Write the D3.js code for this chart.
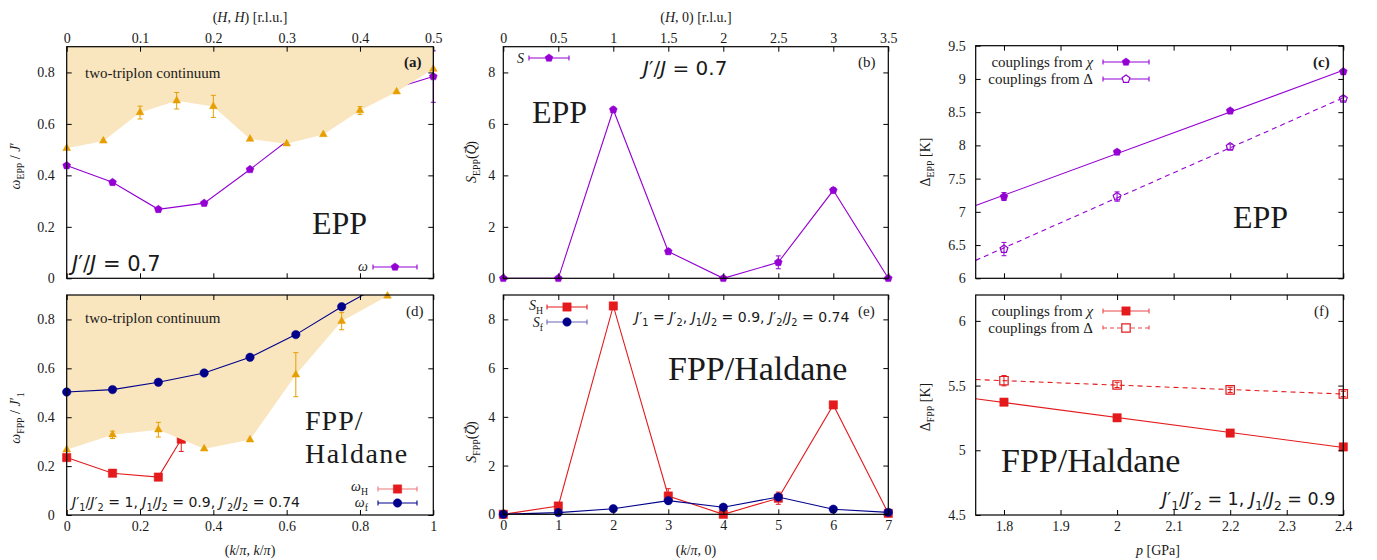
<!DOCTYPE html>
<html>
<head>
<meta charset="utf-8">
<script src="https://cdn.jsdelivr.net/npm/d3@7"></script>
<style>
body { margin: 0; background: #fff; }
text { font-family: "Liberation Serif", "DejaVu Serif", serif; fill: #1a1a1a; }
</style>
</head>
<body>
<script>
// ---------- data ----------
// (a) EPP mode along (H,H)
const qA = [0, 0.0625, 0.125, 0.1875, 0.25, 0.3125, 0.375, 0.4375, 0.5];
const omegaEPP = [0.438, 0.373, 0.268, 0.292, 0.423, 0.56, 0.65, 0.73, 0.784];
const omegaEPPErr = [0, 0, 0, 0, 0, 0, 0, 0, 0.1];
const contAq = [0, 0.05, 0.1, 0.15, 0.2, 0.25, 0.3, 0.35, 0.4, 0.45, 0.5];
const contA = [0.505, 0.534, 0.644, 0.69, 0.668, 0.541, 0.523, 0.559, 0.652, 0.725, 0.813];
const contAErr = [0, 0, 0.025, 0.032, 0.043, 0, 0, 0, 0.015, 0, 0];

// (b) EPP structure factor along (H,0)
const hB = [0, 0.5, 1, 1.5, 2, 2.5, 3, 3.5];
const sEPP = [0, 0, 6.55, 1.04, 0, 0.62, 3.42, 0];
const sEPPErr = [0, 0, 0.1, 0.1, 0, 0.25, 0.1, 0];

// (c) EPP gap vs pressure
const pressure = [1.8, 2.0, 2.2, 2.4];
const gapEPPchi = [7.23, 7.90, 8.52, 9.11];
const gapEPPchiErr = [0.06, 0.03, 0.03, 0.03];
const gapEPPdelta = [6.44, 7.23, 7.98, 8.70];
const gapEPPdeltaErr = [0.1, 0.07, 0.04, 0.03];

// (d) FPP / Haldane modes along (k/pi,k/pi)
const kH = [0, 0.125, 0.25, 0.3125];
const omegaH = [0.235, 0.171, 0.155, 0.31];
const omegaHErr = [0, 0, 0, 0.05];
const kF = [0, 0.125, 0.25, 0.375, 0.5, 0.625, 0.75, 0.875];
const omegaF = [0.503, 0.513, 0.543, 0.581, 0.645, 0.738, 0.852, 0.955];
const contDk = [0, 0.125, 0.25, 0.375, 0.5, 0.625, 0.75, 0.875];
const contD = [0.267, 0.328, 0.349, 0.271, 0.308, 0.574, 0.793, 0.896];
const contDErr = [0, 0.015, 0.03, 0, 0, 0.09, 0.035, 0];

// (e) FPP structure factors along (k/pi,0)
const kE = [0, 1, 2, 3, 4, 5, 6, 7];
const sH = [0, 0.34, 8.55, 0.75, 0, 0.66, 4.49, 0.04];
const sHErr = [0, 0, 0, 0.3, 0, 0.25, 0, 0];
const sF = [0, 0.07, 0.23, 0.56, 0.29, 0.71, 0.21, 0.08];

// (f) FPP gap vs pressure
const gapFPPchi = [5.372, 5.251, 5.133, 5.026];
const gapFPPchiErr = [0, 0, 0, 0];
const gapFPPdelta = [5.538, 5.505, 5.467, 5.436];
const gapFPPdeltaErr = [0.04, 0.02, 0.02, 0.02];

// tick values
const ticksHH = [0, 0.1, 0.2, 0.3, 0.4, 0.5];
const ticksOmega = [0, 0.2, 0.4, 0.6, 0.8];
const ticksH0 = [0, 0.5, 1, 1.5, 2, 2.5, 3, 3.5];
const ticksS = [0, 2, 4, 6, 8];
const ticksP = [1.8, 1.9, 2, 2.1, 2.2, 2.3, 2.4];
const ticksGapEPP = [6, 6.5, 7, 7.5, 8, 8.5, 9, 9.5];
const ticksKK = [0, 0.2, 0.4, 0.6, 0.8, 1];
const ticksK0 = [0, 1, 2, 3, 4, 5, 6, 7];
const ticksGapFPP = [4.5, 5, 5.5, 6];

const purple = '#9400d3', orange = '#e69f00', contFill = '#f9e5be', red = '#e41a1c', navy = '#00008b';
const serif = '"Liberation Serif", "DejaVu Serif", serif';
const sans = '"DejaVu Sans", "Liberation Sans", sans-serif';

let svg = d3.select('body').append('svg').attr('width', 1377).attr('height', 560);

// pentagon symbol for d3.symbol
const symPentagon = {
  draw(ctx, size) {
    let r = Math.sqrt(size / 2.378);
    for (let i = 0; i < 5; i++) {
      let a = -Math.PI / 2 + i * 2 * Math.PI / 5;
      i ? ctx.lineTo(r * Math.cos(a), r * Math.sin(a)) : ctx.moveTo(r * Math.cos(a), r * Math.sin(a));
    }
    ctx.closePath();
  }
};
const symbols = {
  pent: d3.symbol().type(symPentagon).size(40),
  tri: d3.symbol().type(d3.symbolTriangle).size(26),
  square: d3.symbol().type(d3.symbolSquare).size(70),
  circle: d3.symbol().type(d3.symbolCircle).size(56)
};

let clipN = 0;
function makePanel(box, xDom, yDom) {
  let x = d3.scaleLinear().domain(xDom).range([box[0], box[1]]);
  let y = d3.scaleLinear().domain(yDom).range([box[3], box[2]]);
  let id = 'clip' + (clipN++);
  svg.append('clipPath').attr('id', id).append('rect')
    .attr('x', box[0]).attr('y', box[2]).attr('width', box[1] - box[0]).attr('height', box[3] - box[2]);
  return { x, y, box, clip: 'url(#' + id + ')', g: svg.append('g') };
}

function axes(p, xt, yt, xLabels, yPad) {
  const fmt = d => String(d);
  const [l, r, t, b] = p.box;
  let add = (tr, ax) => {
    let a = p.g.append('g').attr('transform', tr).call(ax);
    a.select('.domain').remove();
    a.selectAll('line').attr('stroke', '#000');
    a.selectAll('text').attr('font-size', 14).style('font-family', serif).attr('fill', '#1a1a1a');
    return a;
  };
  add(`translate(${l},0)`, d3.axisLeft(p.y).tickValues(yt).tickFormat(fmt).tickSizeInner(-5).tickSizeOuter(0).tickPadding(yPad));
  add(`translate(${r},0)`, d3.axisRight(p.y).tickValues(yt).tickFormat('').tickSizeInner(-5).tickSizeOuter(0));
  add(`translate(0,${b})`, d3.axisBottom(p.x).tickValues(xt).tickFormat(xLabels === 'bottom' ? fmt : '').tickSizeInner(-5).tickSizeOuter(0).tickPadding(6));
  add(`translate(0,${t})`, d3.axisTop(p.x).tickValues(xt).tickFormat(xLabels === 'top' ? fmt : '').tickSizeInner(-5).tickSizeOuter(0).tickPadding(4));
  p.g.append('rect').attr('x', l).attr('y', t).attr('width', r - l).attr('height', b - t)
    .attr('fill', 'none').attr('stroke', '#000').attr('stroke-width', 1.2);
}

function line(p, xs, ys, color, dash) {
  p.g.append('path').datum(d3.zip(xs, ys))
    .attr('d', d3.line().x(d => p.x(d[0])).y(d => p.y(d[1])))
    .attr('fill', 'none').attr('stroke', color).attr('stroke-width', 1.1)
    .attr('stroke-dasharray', dash ? '5,4' : null)
    .attr('clip-path', p.clip);
}

function errBars(p, xs, ys, es, color) {
  p.g.selectAll(null).data(d3.zip(xs, ys, es).filter(d => d[2] > 0)).join('path')
    .attr('d', d => {
      let X = p.x(d[0]), y1 = p.y(d[1] - d[2]), y2 = p.y(d[1] + d[2]);
      return `M${X - 2.5},${y1}H${X + 2.5}M${X},${y1}V${y2}M${X - 2.5},${y2}H${X + 2.5}`;
    })
    .attr('fill', 'none').attr('stroke', color).attr('stroke-width', 1);
}

function points(p, xs, ys, sym, color, filled) {
  let yd = p.y.domain();
  p.g.selectAll(null).data(d3.zip(xs, ys).filter(d => d[1] <= yd[1])).join('path')
    .attr('transform', d => `translate(${p.x(d[0])},${p.y(d[1])})`)
    .attr('d', symbols[sym])
    .attr('fill', filled ? color : 'none')
    .attr('stroke', color).attr('stroke-width', filled ? 0.5 : 1.2);
}

function continuum(p, xs, ys) {
  let top = p.y.domain()[1];
  p.g.append('path').datum(d3.zip(xs, ys))
    .attr('d', d3.area().x(d => p.x(d[0])).y0(p.y(top)).y1(d => p.y(d[1])))
    .attr('fill', contFill).attr('stroke', 'none');
}

// least-squares fit line across the panel width
function fitLine(p, xs, ys, color, dash) {
  let mx = d3.mean(xs), my = d3.mean(ys);
  let slope = d3.sum(xs, (v, i) => (v - mx) * (ys[i] - my)) / d3.sum(xs, v => (v - mx) ** 2);
  let dom = p.x.domain();
  line(p, dom, dom.map(v => my + slope * (v - mx)), color, dash);
}

function legendEntry(p, x1, x2, y, color, sym, filled, dash, alpha) {
  p.g.append('path')
    .attr('d', `M${x1},${y}H${x2}M${x1},${y - 2.5}V${y + 2.5}M${x2},${y - 2.5}V${y + 2.5}`)
    .attr('fill', 'none').attr('stroke', color).attr('stroke-width', 1.1)
    .attr('stroke-opacity', alpha || 1)
    .attr('stroke-dasharray', dash ? '4,3' : null);
  p.g.append('path').attr('transform', `translate(${(x1 + x2) / 2},${y})`)
    .attr('d', symbols[sym]).attr('fill', filled ? color : '#fff')
    .attr('stroke', color).attr('stroke-width', filled ? 0.5 : 1.2);
}

// text built from parts: 'plain' or [text, flags] with i = italic, _ = subscript, ^ = superscript
// or {t, dx, dy, size, family} for hand-placed accents (vector arrow)
function rich(g, x, y, parts, o = {}) {
  let size = o.size || 14;
  let t = g.append('text').attr('x', x).attr('y', y).attr('font-size', size)
    .attr('text-anchor', o.anchor || 'start');
  t.style('font-family', o.family || serif);
  if (o.weight) t.attr('font-weight', o.weight);
  if (o.spacing) t.attr('letter-spacing', o.spacing);
  if (o.rotate) t.attr('transform', `rotate(-90,${x},${y})`);
  let shift = 0;
  parts.forEach(part => {
    if (part.t) {
      let ts = t.append('tspan').text(part.t).attr('dx', part.dx || 0).attr('dy', part.dy || 0);
      if (part.size) ts.attr('font-size', part.size);
      if (part.family) ts.style('font-family', part.family);
      shift += part.dy || 0;
      return;
    }
    let [s, f] = typeof part === 'string' ? [part, ''] : part;
    let target = f.includes('_') ? size * 0.3 : f.includes('^') ? -size * 0.35 : 0;
    let ts = t.append('tspan').text(s).attr('dy', target - shift);
    shift = target;
    if (f.includes('i')) ts.style('font-style', 'italic');
    if (target) ts.attr('font-size', size * 0.7);
  });
  return t;
}

const vecArrow = { t: '→', dx: -9, dy: -8, size: 9, family: sans };

// ---------- (a) ----------
let pa = makePanel([66.7, 433.3, 46.7, 278.3], [0, 0.5], [0, 0.9]);
line(pa, qA, omegaEPP, purple);
points(pa, qA, omegaEPP, 'pent', purple, true);
errBars(pa, qA, omegaEPP, omegaEPPErr, purple);
continuum(pa, contAq, contA);
errBars(pa, contAq, contA, contAErr, orange);
points(pa, contAq, contA, 'tri', orange, true);
axes(pa, ticksHH, ticksOmega, 'top', 12);
rich(pa.g, 85, 78, ['two-triplon continuum'], { size: 15 });
rich(pa.g, 404, 67, ['(a)'], { size: 15, weight: 'bold' });
rich(pa.g, 312, 234, ['EPP'], { size: 32 });
rich(pa.g, 72, 271, [['J', 'i'], '′/', ['J', 'i'], ' = 0.7'], { size: 21, family: sans });
rich(pa.g, 368, 271, [['ω', 'i']], { size: 14, anchor: 'end' });
legendEntry(pa, 373, 417, 267, purple, 'pent', true);
rich(svg, 250, 22, ['(', ['H', 'i'], ', ', ['H', 'i'], ') [r.l.u.]'], { size: 14, anchor: 'middle' });
rich(svg, 20, 166, [['ω', 'i'], ['EPP', '_'], ' / ', ['J', 'i'], '′'], { size: 14, anchor: 'middle', rotate: true });

// ---------- (b) ----------
let pb = makePanel([503.3, 888.3, 46.7, 278.3], [0, 3.5], [0, 9]);
line(pb, hB, sEPP, purple);
errBars(pb, hB, sEPP, sEPPErr, purple);
points(pb, hB, sEPP, 'pent', purple, true);
axes(pb, ticksH0, ticksS, 'top', 8);
rich(pb.g, 858, 67, ['(b)'], { size: 15 });
rich(pb.g, 532, 123, ['EPP'], { size: 32 });
rich(pb.g, 643, 75, [['J', 'i'], '′/', ['J', 'i'], ' = 0.7'], { size: 20, family: sans });
rich(pb.g, 517, 63, [['S', 'i']], { size: 14 });
legendEntry(pb, 529, 569, 58, purple, 'pent', true);
rich(svg, 696, 22, ['(', ['H', 'i'], ', 0) [r.l.u.]'], { size: 14, anchor: 'middle' });
rich(svg, 476, 162, [['S', 'i'], ['EPP', '_'], '(', ['Q', 'i'], vecArrow, ')'], { size: 14, anchor: 'middle', rotate: true });

// ---------- (c) ----------
let pc = makePanel([975.7, 1343.3, 45.7, 278.3], [1.75, 2.4], [6, 9.5]);
fitLine(pc, pressure, gapEPPchi, purple, false);
fitLine(pc, pressure, gapEPPdelta, purple, true);
errBars(pc, pressure, gapEPPchi, gapEPPchiErr, purple);
errBars(pc, pressure, gapEPPdelta, gapEPPdeltaErr, purple);
points(pc, pressure, gapEPPchi, 'pent', purple, true);
points(pc, pressure, gapEPPdelta, 'pent', purple, false);
axes(pc, ticksP, ticksGapEPP, 'none', 10);
rich(pc.g, 1313, 67, ['(c)'], { size: 15, weight: 'bold' });
rich(pc.g, 1233, 228, ['EPP'], { size: 32 });
rich(pc.g, 1093, 67, ['couplings from ', ['χ', 'i']], { size: 15, anchor: 'end' });
rich(pc.g, 1093, 84, ['couplings from Δ'], { size: 15, anchor: 'end' });
legendEntry(pc, 1103, 1149, 62, purple, 'pent', true);
legendEntry(pc, 1103, 1149, 79, purple, 'pent', false);
rich(svg, 930, 162, ['Δ', ['EPP', '_'], ' [K]'], { size: 14, anchor: 'middle', rotate: true });

// ---------- (d) ----------
let pd = makePanel([66.7, 433.3, 295, 515], [0, 1], [0, 0.9]);
line(pd, kH, omegaH, red);
errBars(pd, kH, omegaH, omegaHErr, red);
points(pd, kH, omegaH, 'square', red, true);
continuum(pd, contDk, contD);
errBars(pd, contDk, contD, contDErr, orange);
points(pd, contDk, contD, 'tri', orange, true);
line(pd, kF, omegaF, navy);
points(pd, kF, omegaF, 'circle', navy, true);
axes(pd, ticksKK, ticksOmega, 'bottom', 12);
rich(pd.g, 85, 323, ['two-triplon continuum'], { size: 15 });
rich(pd.g, 406, 316, ['(d)'], { size: 15 });
rich(pd.g, 305, 430, ['FPP/'], { size: 28, spacing: 1 });
rich(pd.g, 305, 463, ['Haldane'], { size: 28, spacing: 1.5 });
rich(pd.g, 72, 507, [['J', 'i'], '′', ['1', '_'], '/', ['J', 'i'], '′', ['2', '_'], ' = 1, ', ['J', 'i'], ['1', '_'], '/', ['J', 'i'], ['2', '_'], ' = 0.9, ', ['J', 'i'], '′', ['2', '_'], '/', ['J', 'i'], ['2', '_'], ' = 0.74'], { size: 14, family: sans });
rich(pd.g, 368, 491, [['ω', 'i'], ['H', '_']], { size: 14, anchor: 'end' });
rich(pd.g, 368, 507, [['ω', 'i'], ['f', '_']], { size: 14, anchor: 'end' });
legendEntry(pd, 378, 417, 489, red, 'square', true, false, 0.6);
legendEntry(pd, 378, 417, 503, navy, 'circle', true);
rich(svg, 250, 555, ['(', ['k', 'i'], '/', ['π', 'i'], ', ', ['k', 'i'], '/', ['π', 'i'], ')'], { size: 14, anchor: 'middle' });
rich(svg, 20, 418, [['ω', 'i'], ['FPP', '_'], ' / ', ['J', 'i'], '′', ['1', '_']], { size: 14, anchor: 'middle', rotate: true });

// ---------- (e) ----------
let pe = makePanel([503.3, 888.3, 295, 514.3], [0, 7], [0, 9]);
line(pe, kE, sH, red);
errBars(pe, kE, sH, sHErr, red);
points(pe, kE, sH, 'square', red, true);
line(pe, kE, sF, navy);
points(pe, kE, sF, 'circle', navy, true);
axes(pe, ticksK0, ticksS, 'bottom', 8);
rich(pe.g, 858, 316, ['(e)'], { size: 15 });
rich(pe.g, 668, 380, ['FPP/Haldane'], { size: 34 });
rich(pe.g, 635, 322, [['J', 'i'], '′', ['1', '_'], ' = ', ['J', 'i'], '′', ['2', '_'], ', ', ['J', 'i'], ['1', '_'], '/', ['J', 'i'], ['2', '_'], ' = 0.9, ', ['J', 'i'], '′', ['2', '_'], '/', ['J', 'i'], ['2', '_'], ' = 0.74'], { size: 14, family: sans });
rich(pe.g, 543, 310, [['S', 'i'], ['H', '_']], { size: 14, anchor: 'end' });
rich(pe.g, 543, 327, [['S', 'i'], ['f', '_']], { size: 14, anchor: 'end' });
legendEntry(pe, 547, 587, 307, red, 'square', true);
legendEntry(pe, 547, 587, 322, navy, 'circle', true, false, 0.6);
rich(svg, 696, 555, ['(', ['k', 'i'], '/', ['π', 'i'], ', 0)'], { size: 14, anchor: 'middle' });
rich(svg, 476, 442, [['S', 'i'], ['FPP', '_'], '(', ['Q', 'i'], vecArrow, ')'], { size: 14, anchor: 'middle', rotate: true });

// ---------- (f) ----------
let pf = makePanel([975.7, 1343.3, 295, 515], [1.75, 2.4], [4.5, 6.2]);
fitLine(pf, pressure, gapFPPchi, red, false);
fitLine(pf, pressure, gapFPPdelta, red, true);
errBars(pf, pressure, gapFPPchi, gapFPPchiErr, red);
errBars(pf, pressure, gapFPPdelta, gapFPPdeltaErr, red);
points(pf, pressure, gapFPPchi, 'square', red, true);
points(pf, pressure, gapFPPdelta, 'square', red, false);
axes(pf, ticksP, ticksGapFPP, 'bottom', 10);
rich(pf.g, 1314, 316, ['(f)'], { size: 15 });
rich(pf.g, 1001, 472, ['FPP/Haldane'], { size: 34 });
rich(pf.g, 1162, 505, [['J', 'i'], '′', ['1', '_'], '/', ['J', 'i'], '′', ['2', '_'], ' = 1, ', ['J', 'i'], ['1', '_'], '/', ['J', 'i'], ['2', '_'], ' = 0.9'], { size: 17.5, family: sans });
rich(pf.g, 1093, 316, ['couplings from ', ['χ', 'i']], { size: 15, anchor: 'end' });
rich(pf.g, 1093, 333, ['couplings from Δ'], { size: 15, anchor: 'end' });
legendEntry(pf, 1103, 1149, 311, red, 'square', true, false, 0.8);
legendEntry(pf, 1103, 1149, 328, red, 'square', false, true, 0.8);
rich(svg, 1158, 555, [['p', 'i'], ' [GPa]'], { size: 14, anchor: 'middle' });
rich(svg, 930, 407, ['Δ', ['FPP', '_'], ' [K]'], { size: 14, anchor: 'middle', rotate: true });
</script>
</body>
</html>
